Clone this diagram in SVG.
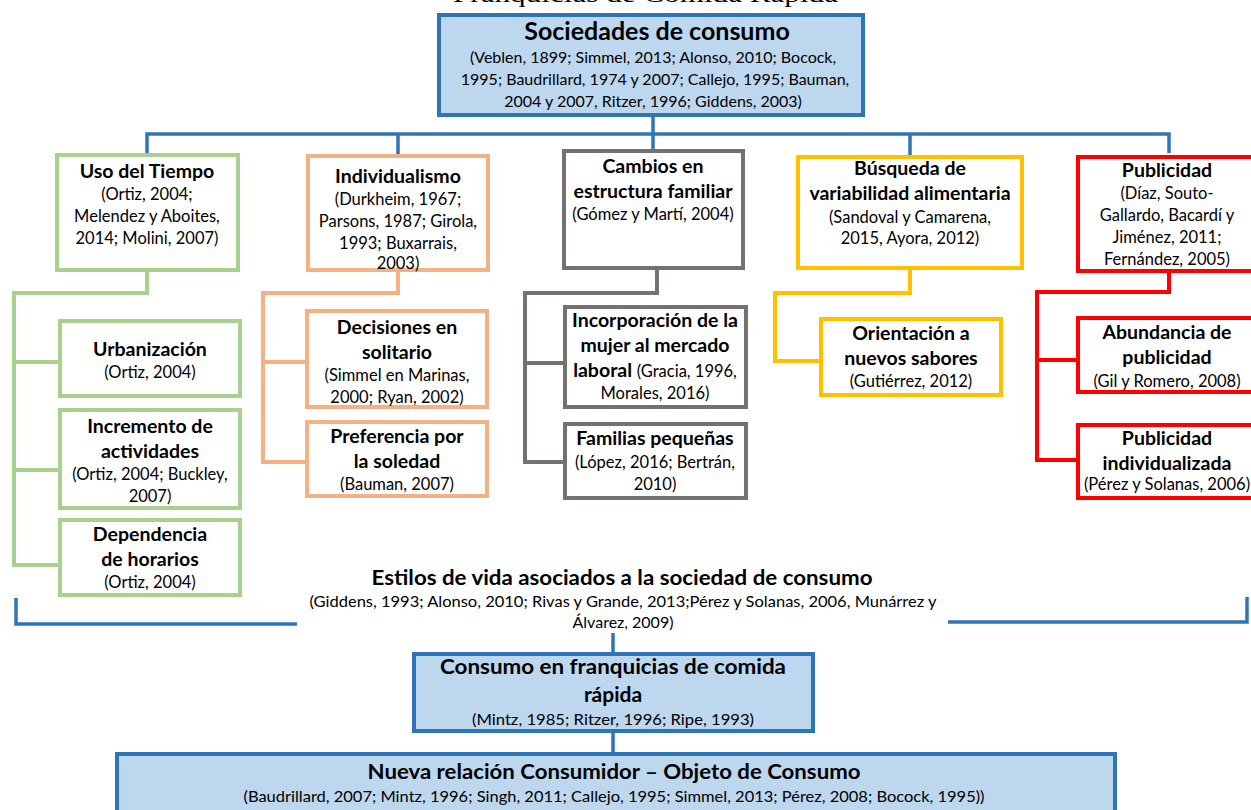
<svg xmlns="http://www.w3.org/2000/svg" width="1251" height="810" viewBox="0 0 1251 810">
<style>
text{font-family:Lato,"Liberation Sans",sans-serif;fill:#000;text-anchor:middle}
.h{font-weight:bold;font-size:19.5px}
.c{font-size:16.5px}
.b{fill:#fff;stroke-width:4}
.bl{fill:#BDD7EE;stroke:#2E75B6;stroke-width:4}
.g{stroke:#A9D18E}.o{stroke:#F4B183}.k{stroke:#767171}.y{stroke:#FFC000}.r{stroke:#FF0000}
#conn path{fill:none;stroke-width:4}
</style>
<rect width="1251" height="810" fill="#fff"/>
<text x="453" y="2" textLength="385" lengthAdjust="spacingAndGlyphs" style="font-family:'Liberation Serif',serif;font-size:24px;text-anchor:start">Franquicias de Comida Rápida</text>
<g id="conn">
<path d="M653 117V134M147 153V134H1169V153M398 134V154M653 134V149M910 134V155" stroke="#2E75B6" style="stroke-width:3.5"/>
<path d="M16 598V624H297M948 622H1247V597M613 633V652M613 733V752" stroke="#2E75B6" style="stroke-width:3.5"/>
<path d="M147 272V293H14V565H58M14 362H58M14 470H58" class="g"/>
<path d="M398 272V293H263V462H305M263 362H305" class="o"/>
<path d="M657 270V293H525V462H563M525 363H563" class="k"/>
<path d="M910 270V293H775V361H819" class="y"/>
<path d="M1169 273V292H1037V460H1076M1037 360H1076" class="r"/>
</g>
<g id="sociedades">
<rect x="439" y="15" width="424" height="100" class="bl"/>
<text x="657" y="40" style="font-weight:bold;font-size:25px">Sociedades de consumo</text>
<text x="653" y="63" style="font-size:16px">(Veblen, 1899; Simmel, 2013; Alonso, 2010; Bocock,</text>
<text x="655" y="85" style="font-size:16px">1995;  Baudrillard, 1974 y 2007; Callejo, 1995; Bauman,</text>
<text x="653" y="107" style="font-size:16px">2004 y 2007, Ritzer, 1996; Giddens, 2003)</text>
</g>
<g id="uso">
<rect x="57" y="155" width="181" height="115" class="b g"/>
<text x="147" y="178" class="h">Uso del Tiempo</text>
<text x="147" y="200" class="c">(Ortiz, 2004;</text>
<text x="147" y="222" class="c">Melendez y Aboites,</text>
<text x="147" y="244" class="c">2014; Molini, 2007)</text>
</g>
<g id="urbanizacion">
<rect x="60" y="321" width="180" height="75" class="b g"/>
<text x="150" y="356" class="h">Urbanización</text>
<text x="150" y="378" class="c">(Ortiz, 2004)</text>
</g>
<g id="incremento">
<rect x="60" y="410" width="180" height="98" class="b g"/>
<text x="150" y="433" class="h">Incremento de</text>
<text x="150" y="458" class="h">actividades</text>
<text x="150" y="480" class="c">(Ortiz, 2004; Buckley,</text>
<text x="150" y="502" class="c">2007)</text>
</g>
<g id="dependencia">
<rect x="60" y="520" width="180" height="75" class="b g"/>
<text x="150" y="541" class="h">Dependencia</text>
<text x="150" y="566" class="h">de horarios</text>
<text x="150" y="588" class="c">(Ortiz, 2004)</text>
</g>
<g id="individualismo">
<rect x="308" y="156" width="180" height="114" class="b o"/>
<text x="398" y="183" class="h">Individualismo</text>
<text x="398" y="205" class="c">(Durkheim, 1967;</text>
<text x="398" y="227" class="c">Parsons, 1987; Girola,</text>
<text x="398" y="249" class="c">1993; Buxarrais,</text>
<text x="398" y="269" class="c">2003)</text>
</g>
<g id="decisiones">
<rect x="307" y="311" width="180" height="96" class="b o"/>
<text x="397" y="334" class="h">Decisiones en</text>
<text x="397" y="359" class="h">solitario</text>
<text x="397" y="381" class="c">(Simmel en Marinas,</text>
<text x="397" y="403" class="c">2000; Ryan, 2002)</text>
</g>
<g id="preferencia">
<rect x="307" y="422" width="180" height="74" class="b o"/>
<text x="397" y="443" class="h">Preferencia por</text>
<text x="397" y="468" class="h">la soledad</text>
<text x="397" y="490" class="c">(Bauman, 2007)</text>
</g>
<g id="cambios">
<rect x="564" y="151" width="179" height="117" class="b k"/>
<text x="653" y="173" class="h">Cambios en</text>
<text x="653" y="198" class="h">estructura familiar</text>
<text x="653" y="220" class="c">(Gómez y Martí, 2004)</text>
</g>
<g id="incorporacion">
<rect x="565" y="307" width="181" height="100" class="b k"/>
<text x="655" y="327" class="h">Incorporación de la</text>
<text x="655" y="352" class="h">mujer al mercado</text>
<text x="655" y="377" class="h">laboral <tspan style="font-weight:normal;font-size:16.5px">(Gracia, 1996,</tspan></text>
<text x="655" y="399" class="c">Morales, 2016)</text>
</g>
<g id="familias">
<rect x="565" y="424" width="181" height="74" class="b k"/>
<text x="655" y="445" class="h">Familias pequeñas</text>
<text x="655" y="468" class="c">(López, 2016; Bertrán,</text>
<text x="655" y="490" class="c">2010)</text>
</g>
<g id="busqueda">
<rect x="798" y="157" width="224" height="111" class="b y"/>
<text x="910" y="175" class="h">Búsqueda de</text>
<text x="910" y="200" class="h">variabilidad alimentaria</text>
<text x="910" y="223" class="c">(Sandoval y Camarena,</text>
<text x="910" y="244" class="c">2015, Ayora, 2012)</text>
</g>
<g id="orientacion">
<rect x="821" y="319" width="180" height="76" class="b y"/>
<text x="911" y="340" class="h">Orientación a</text>
<text x="911" y="365" class="h">nuevos sabores</text>
<text x="911" y="387" class="c">(Gutiérrez, 2012)</text>
</g>
<g id="publicidad">
<rect x="1078" y="157" width="182" height="114" class="b r"/>
<text x="1167" y="177" class="h">Publicidad</text>
<text x="1167" y="199" class="c">(Díaz, Souto-</text>
<text x="1167" y="221" class="c">Gallardo, Bacardí y</text>
<text x="1167" y="243" class="c">Jiménez, 2011;</text>
<text x="1167" y="265" class="c">Fernández, 2005)</text>
</g>
<g id="abundancia">
<rect x="1078" y="318" width="182" height="74" class="b r"/>
<text x="1167" y="339" class="h">Abundancia de</text>
<text x="1167" y="364" class="h">publicidad</text>
<text x="1167" y="387" class="c">(Gil y Romero, 2008)</text>
</g>
<g id="publicidad-individualizada">
<rect x="1078" y="425" width="182" height="73" class="b r"/>
<text x="1167" y="445" class="h">Publicidad</text>
<text x="1167" y="470" class="h">individualizada</text>
<text x="1167" y="490" class="c">(Pérez y Solanas, 2006)</text>
</g>
<g id="estilos">
<text x="622" y="585" textLength="501" lengthAdjust="spacingAndGlyphs" style="font-weight:bold;font-size:20px">Estilos de vida asociados a la sociedad de consumo</text>
<text x="623" y="607" textLength="627" lengthAdjust="spacingAndGlyphs" style="font-size:15px">(Giddens, 1993; Alonso, 2010; Rivas y Grande, 2013;Pérez y Solanas, 2006, Munárrez y</text>
<text x="623" y="628" style="font-size:16px">Álvarez, 2009)</text>
</g>
<g id="consumo">
<rect x="414" y="654" width="399" height="77" class="bl"/>
<text x="613" y="674" textLength="346" lengthAdjust="spacingAndGlyphs" style="font-weight:bold;font-size:21px">Consumo en franquicias de comida</text>
<text x="613" y="702" style="font-weight:bold;font-size:21px">rápida</text>
<text x="613" y="725" textLength="282" lengthAdjust="spacingAndGlyphs" style="font-size:15px">(Mintz, 1985; Ritzer, 1996; Ripe, 1993)</text>
</g>
<g id="nueva">
<rect x="117" y="754" width="998" height="70" class="bl"/>
<text x="614" y="779" textLength="493" lengthAdjust="spacingAndGlyphs" style="font-weight:bold;font-size:21px">Nueva relación Consumidor – Objeto de Consumo</text>
<text x="614" y="802" textLength="741" lengthAdjust="spacingAndGlyphs" style="font-size:16px">(Baudrillard, 2007; Mintz, 1996; Singh, 2011; Callejo, 1995; Simmel, 2013; Pérez, 2008; Bocock, 1995))</text>
</g>
</svg>
